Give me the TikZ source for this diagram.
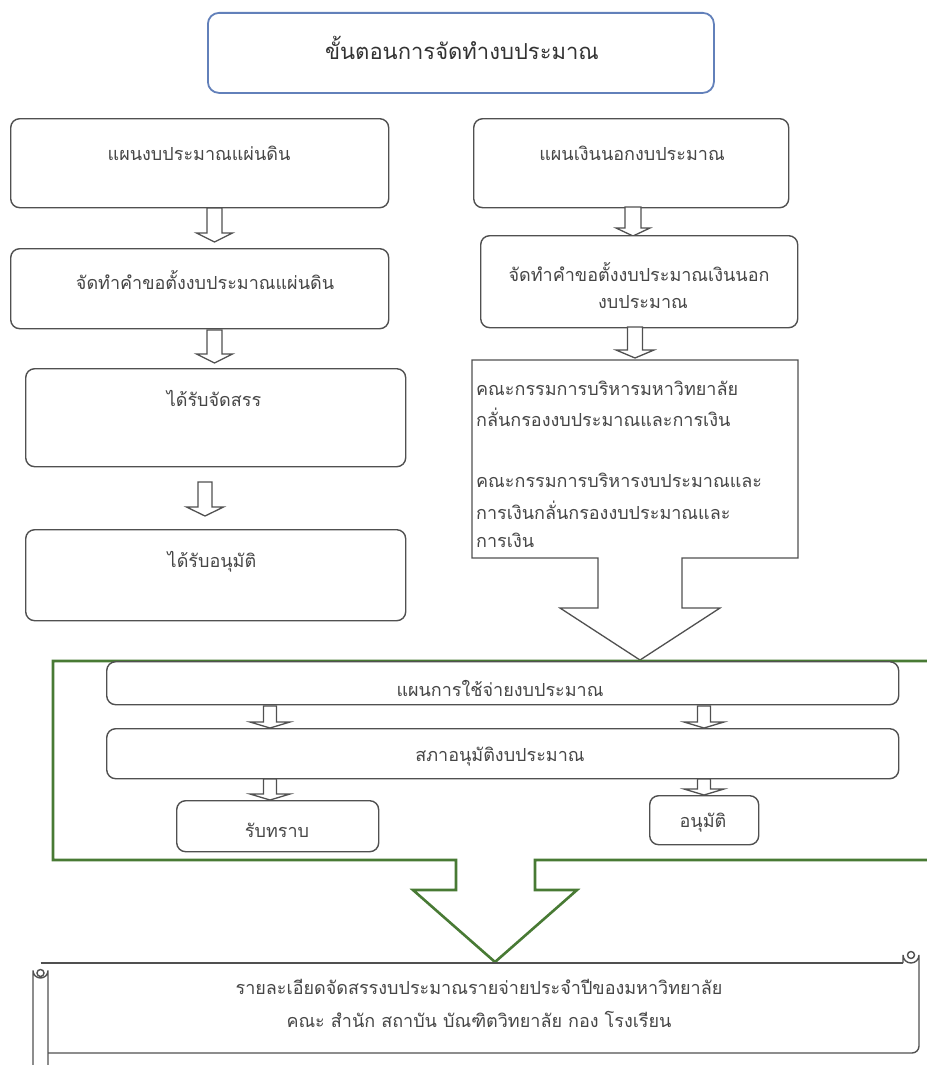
\documentclass[tikz,border=0pt]{standalone}
\usepackage{fontspec}
\newfontfamily\thai[Script=Thai]{Loma}
\definecolor{linegray}{RGB}{80,80,80}
\definecolor{textgray}{RGB}{70,70,70}
\definecolor{greenline}{RGB}{72,122,52}
\definecolor{titleblue}{RGB}{98,128,186}
\tikzset{
  box/.style={draw=linegray, line width=1.4pt, rounded corners=9pt, fill=white, anchor=north west, inner sep=0pt},
  txt/.style={text=textgray, font=\thai\fontsize{18}{22}\selectfont, inner sep=0pt},
  ctxt/.style={txt, anchor=west},
  barrowst/.style={draw=linegray, line width=1.3pt, fill=white, line join=miter},
}
\newcommand\bkarrow[6]{%
  \draw[barrowst] ({#1-#4},#2) -- ({#1+#4},#2) -- ({#1+#4},{#3-#6}) -- ({#1+#5},{#3-#6}) -- (#1,#3) -- ({#1-#5},{#3-#6}) -- ({#1-#4},{#3-#6}) -- cycle;}
\begin{document}
\begin{tikzpicture}[x=1pt,y=-1pt]
\useasboundingbox (0,0) rectangle (926,1065);
\fill[white] (0,0) rectangle (926,1065);

% title
\node[box, draw=titleblue, line width=1.8pt, rounded corners=11pt, minimum width=506pt, minimum height=80pt] (title) at (207,12) {};
\node[txt, font=\thai\fontsize{22}{26}\selectfont, text=black!80] (titlet) at (462,48) {ขั้นตอนการจัดทำงบประมาณ};

% left column
\node[box, minimum width=378pt, minimum height=89pt] (l1) at (10,118) {};
\node[txt] (l1t) at (199,153) {แผนงบประมาณแผ่นดิน};
\bkarrow{214.5}{208}{242}{7.5}{18}{9}
\node[box, minimum width=378pt, minimum height=80pt] (l2) at (10,248) {};
\node[txt] (l2t) at (205,280) {จัดทำคำขอตั้งงบประมาณแผ่นดิน};
\bkarrow{214.5}{330}{363}{7.5}{18}{9}
\node[box, minimum width=380pt, minimum height=98pt] (l3) at (25,368) {};
\node[txt] (l3t) at (214,398) {ได้รับจัดสรร};
\bkarrow{205}{482}{516}{7}{18.5}{9}
\node[box, minimum width=380pt, minimum height=91pt] (l4) at (25,529) {};
\node[txt] (l4t) at (212,562) {ได้รับอนุมัติ};

% right column
\node[box, minimum width=315pt, minimum height=89pt] (r1) at (473,118) {};
\node[txt] (r1t) at (632,153) {แผนเงินนอกงบประมาณ};
\bkarrow{633}{207}{236}{8}{17}{8}
\node[box, minimum width=317pt, minimum height=92pt] (r2) at (480,235) {};
\node[txt] (r2t1) at (639,272) {จัดทำคำขอตั้งงบประมาณเงินนอก};
\node[txt] (r2t2) at (643,302) {งบประมาณ};
\bkarrow{635}{327}{358}{7.5}{19}{8}

% callout with down arrow
\draw[barrowst] (472,360) -- (798,360) -- (798,558) -- (682,558) -- (682,608) -- (720,608)
  -- (640,660) -- (560,608) -- (598,608) -- (598,558) -- (472,558) -- cycle;
\node[ctxt] (c1) at (476,388) {คณะกรรมการบริหารมหาวิทยาลัย};
\node[ctxt] (c2) at (476,417) {กลั่นกรองงบประมาณและการเงิน};
\node[ctxt] (c3) at (476,480) {คณะกรรมการบริหารงบประมาณและ};
\node[ctxt] (c4) at (476,510) {การเงินกลั่นกรองงบประมาณและ};
\node[ctxt] (c5) at (476,540) {การเงิน};

% green callout
\draw[draw=greenline, line width=2.6pt, line join=miter] (53,661) -- (940,661) -- (940,860) -- (535,860) -- (535,890) -- (577,890)
  -- (495,962) -- (413,890) -- (456,890) -- (456,860) -- (53,860) -- cycle;

\node[box, minimum width=792pt, minimum height=43pt] (pa) at (106,661) {};
\node[txt] (pat) at (500,688) {แผนการใช้จ่ายงบประมาณ};
\bkarrow{270}{706}{728}{6.5}{20}{6}
\bkarrow{704}{706}{728}{6.5}{20}{6}
\node[box, minimum width=792pt, minimum height=50pt] (pb) at (106,728) {};
\node[txt] (pbt) at (500,757) {สภาอนุมัติงบประมาณ};
\bkarrow{270}{779}{800}{6.5}{20}{6}
\bkarrow{704}{779}{795}{6.5}{20}{6}
\node[box, minimum width=202pt, minimum height=51pt] (ack) at (176,800) {};
\node[txt] (ackt) at (277,830) {รับทราบ};
\node[box, minimum width=109pt, minimum height=49pt] (appr) at (649,795) {};
\node[txt] (apprt) at (703,823) {อนุมัติ};

% scroll
\begin{scope}[draw=linegray, line width=1.4pt]
  \draw (40.5,963) -- (903,963);
  \draw (903,963) -- (903,955) arc[start angle=180, end angle=0, radius=8] -- (919,1046) arc[start angle=0, end angle=90, radius=7] -- (48,1053);
  \draw (911,955) circle[radius=3.5];
  \draw (33,1070) -- (33,970.5) arc[start angle=180, end angle=0, radius=7.5] -- (48,1070);
  \draw (40.5,973) circle[radius=3.5];
\end{scope}
\node[txt] (s1) at (479,987) {รายละเอียดจัดสรรงบประมาณรายจ่ายประจำปีของมหาวิทยาลัย};
\node[txt] (s2) at (479,1019) {คณะ สำนัก สถาบัน บัณฑิตวิทยาลัย กอง โรงเรียน};
\end{tikzpicture}
\end{document}
